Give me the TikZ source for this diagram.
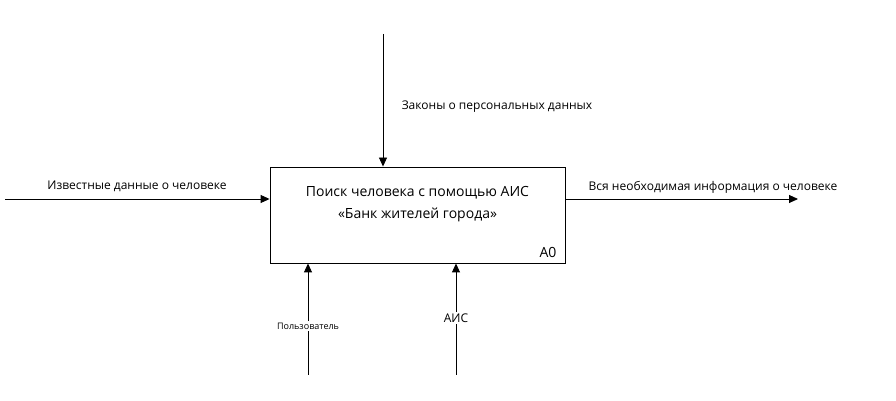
\documentclass[tikz,border=0pt]{standalone}
\usepackage{fontspec}
\setmainfont{Open Sans}
\usetikzlibrary{arrows.meta}

\tikzset{
  idef/.style={-{Triangle[length=9pt,width=8pt]}, line width=0.9pt},
  lbl/.style={font=\fontsize{12}{14}\selectfont, inner sep=1pt},
}

\begin{document}
\begin{tikzpicture}[x=1pt,y=1pt]
\useasboundingbox (0,0) rectangle (896,401);

\node[draw, line width=0.9pt, minimum width=295pt, minimum height=96pt] (box) at (417.5,186) {};
\node[align=center, font=\fontsize{14}{22}\selectfont] (title) at (417.5,197) {Поиск человека с помощью АИС\\«Банк жителей города»};
\node[font=\fontsize{14}{16}\selectfont] (a0) at (548,149) {A0};

\coordinate (in0) at (5,202);
\coordinate (ctl) at (383,367);
\coordinate (out1) at (798,202);
\coordinate (m1) at (308,26);
\coordinate (m2) at (456,26);

\node[lbl] (lin) at (137,215) {Известные данные о человеке};
\node[lbl] (lctl) at (497,294) {Законы о персональных данных};
\node[lbl] (lout) at (713,214) {Вся необходимая информация о человеке};

\draw[idef] (in0) -- (in0 -| box.west);
\draw[idef] (ctl) -- (ctl |- box.north);
\draw[idef] (box.east |- out1) -- (out1);
\draw[idef] (m1) -- (m1 |- box.south);
\draw[idef] (m2) -- (m2 |- box.south);

\node[fill=white, inner sep=2pt, font=\fontsize{9}{11}\selectfont] (lm1) at (308,75) {Пользователь};
\node[fill=white, inner sep=2pt, font=\fontsize{12}{14}\selectfont] (lm2) at (456,83) {АИС};

\end{tikzpicture}
\end{document}
